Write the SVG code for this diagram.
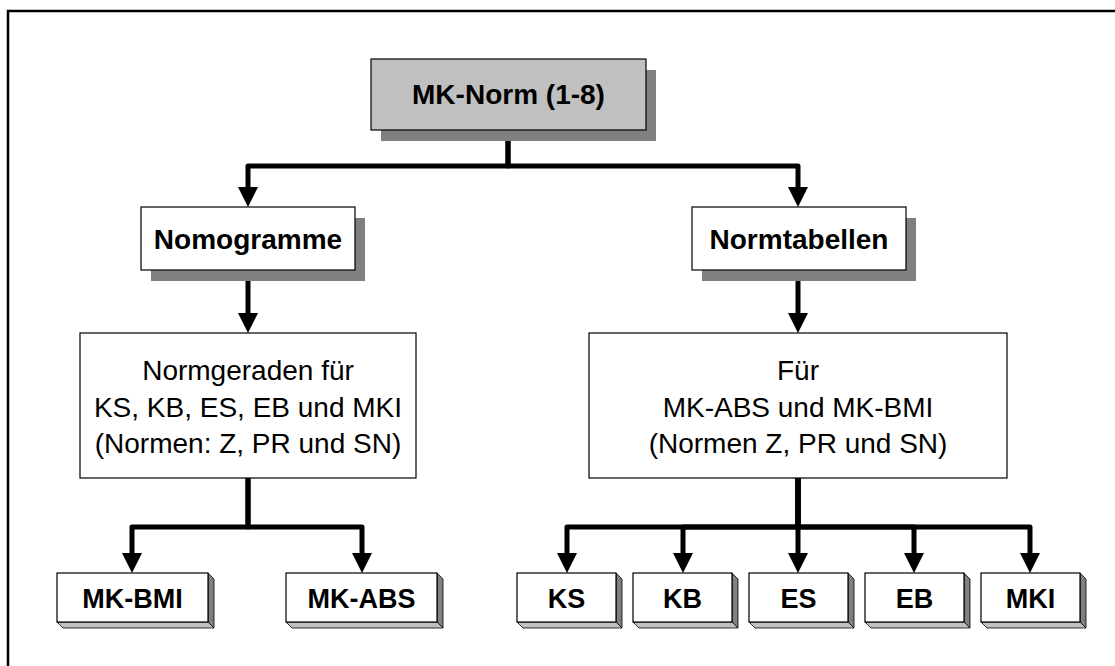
<svg xmlns="http://www.w3.org/2000/svg" width="1115" height="666" viewBox="0 0 1115 666">
  <style>
    .lbl { font-family: "Liberation Sans", Arial, sans-serif; fill: #000; text-anchor: middle; }
    .b { font-weight: bold; }
    .box { fill: #fff; stroke: #000; stroke-width: 1.2; }
    .top { fill: #c0c0c0; stroke: #000; stroke-width: 1.2; }
    .shadow { fill: #808080; }
    .side { fill: #808080; stroke: #000; stroke-width: 0.8; }
    .floor { fill: #c0c0c0; stroke: #000; stroke-width: 0.8; }
    .wire { fill: none; stroke: #000; stroke-width: 5; stroke-linejoin: round; marker-end: url(#head); }
  </style>
  <defs>
    <marker id="head" viewBox="0 0 20 20" refX="10" refY="10" markerWidth="20" markerHeight="20" markerUnits="userSpaceOnUse" orient="auto">
      <path d="M0,0 L20,10 L0,20 z" fill="#000"/>
    </marker>
  </defs>

  <rect width="1115" height="666" fill="#fff"/>
  <!-- outer frame (right and bottom edges fall outside the page) -->
  <path d="M8,668 V11 H1117" fill="none" stroke="#000" stroke-width="2.5"/>

  <g id="connectors">
    <path class="wire" d="M508,130 V166 H248 V197"/>
    <path class="wire" d="M508,130 V166 H798 V197"/>
    <path class="wire" d="M248,270 V323"/>
    <path class="wire" d="M798,270 V323"/>
    <path class="wire" d="M248,478 V527 H132 V563"/>
    <path class="wire" d="M248,478 V527 H362 V563"/>
    <path class="wire" d="M798,478 V527 H567 V563"/>
    <path class="wire" d="M798,478 V527 H683 V563"/>
    <path class="wire" d="M798,478 V563"/>
    <path class="wire" d="M798,478 V527 H914 V563"/>
    <path class="wire" d="M798,478 V527 H1030 V563"/>
  </g>

  <g id="mk-norm">
    <rect class="shadow" x="381" y="70" width="275" height="71"/>
    <rect class="top" x="371" y="59" width="275" height="71"/>
    <text class="lbl b" x="508.5" y="104" font-size="28">MK-Norm (1-8)</text>
  </g>

  <g id="nomogramme">
    <rect class="shadow" x="151" y="218" width="214" height="63"/>
    <rect class="box" x="141" y="207" width="214" height="63"/>
    <text class="lbl b" x="248" y="249" font-size="28">Nomogramme</text>
  </g>

  <g id="normtabellen">
    <rect class="shadow" x="702" y="218" width="214" height="63"/>
    <rect class="box" x="692" y="207" width="214" height="63"/>
    <text class="lbl b" x="799" y="249" font-size="28">Normtabellen</text>
  </g>

  <g id="normgeraden">
    <rect class="box" x="80" y="333" width="336" height="145"/>
    <text class="lbl" x="248" y="380" font-size="28">Normgeraden für</text>
    <text class="lbl" x="248" y="416.5" font-size="28">KS, KB, ES, EB und MKI</text>
    <text class="lbl" x="248" y="453" font-size="28">(Normen: Z, PR und SN)</text>
  </g>

  <g id="fuer">
    <rect class="box" x="589" y="333" width="418" height="145"/>
    <text class="lbl" x="798" y="380" font-size="28">Für</text>
    <text class="lbl" x="798" y="416.5" font-size="28">MK-ABS und MK-BMI</text>
    <text class="lbl" x="798" y="453" font-size="28">(Normen Z, PR und SN)</text>
  </g>

  <g id="mk-bmi">
    <polygon class="side" points="208,573 214,579 214,628 208,622"/>
    <polygon class="floor" points="57,622 63,628 214,628 208,622"/>
    <rect class="box" x="57" y="573" width="151" height="49"/>
    <text class="lbl b" x="132.5" y="608" font-size="27">MK-BMI</text>
  </g>

  <g id="mk-abs">
    <polygon class="side" points="437,573 443,579 443,628 437,622"/>
    <polygon class="floor" points="286,622 292,628 443,628 437,622"/>
    <rect class="box" x="286" y="573" width="151" height="49"/>
    <text class="lbl b" x="361.5" y="608" font-size="27">MK-ABS</text>
  </g>

  <g id="ks">
    <polygon class="side" points="616,573 622,579 622,628 616,622"/>
    <polygon class="floor" points="517,622 523,628 622,628 616,622"/>
    <rect class="box" x="517" y="573" width="99" height="49"/>
    <text class="lbl b" x="566.5" y="608" font-size="27">KS</text>
  </g>

  <g id="kb">
    <polygon class="side" points="732,573 738,579 738,628 732,622"/>
    <polygon class="floor" points="633,622 639,628 738,628 732,622"/>
    <rect class="box" x="633" y="573" width="99" height="49"/>
    <text class="lbl b" x="682.5" y="608" font-size="27">KB</text>
  </g>

  <g id="es">
    <polygon class="side" points="848,573 854,579 854,628 848,622"/>
    <polygon class="floor" points="749,622 755,628 854,628 848,622"/>
    <rect class="box" x="749" y="573" width="99" height="49"/>
    <text class="lbl b" x="798.5" y="608" font-size="27">ES</text>
  </g>

  <g id="eb">
    <polygon class="side" points="964,573 970,579 970,628 964,622"/>
    <polygon class="floor" points="865,622 871,628 970,628 964,622"/>
    <rect class="box" x="865" y="573" width="99" height="49"/>
    <text class="lbl b" x="914.5" y="608" font-size="27">EB</text>
  </g>

  <g id="mki">
    <polygon class="side" points="1080,573 1086,579 1086,628 1080,622"/>
    <polygon class="floor" points="981,622 987,628 1086,628 1080,622"/>
    <rect class="box" x="981" y="573" width="99" height="49"/>
    <text class="lbl b" x="1030.5" y="608" font-size="27">MKI</text>
  </g>
</svg>
